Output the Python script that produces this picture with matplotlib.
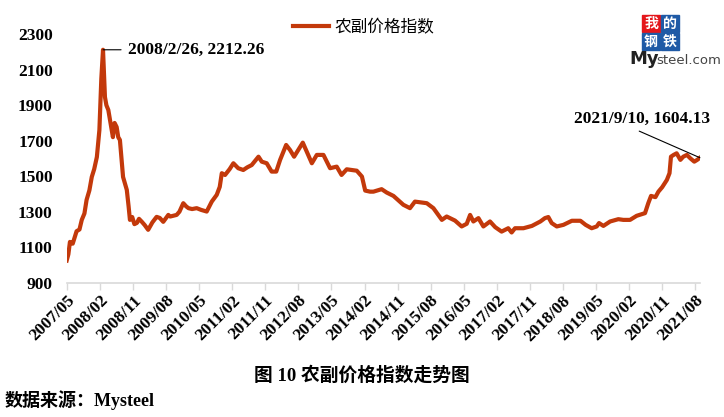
import pandas as pd
import matplotlib
matplotlib.use('Agg')
import matplotlib.pyplot as plt
from matplotlib.patches import Rectangle

# 农副价格指数
dates = ['2007-05-01', '2007-05-15', '2007-05-28', '2007-06-20', '2007-07-22', '2007-08-15',
         '2007-09-03', '2007-09-25', '2007-10-13', '2007-11-05', '2007-11-25', '2007-12-15',
         '2008-01-06', '2008-01-27', '2008-02-12', '2008-02-26', '2008-03-05', '2008-03-13',
         '2008-03-25', '2008-04-10', '2008-04-24', '2008-05-08', '2008-05-18', '2008-06-01',
         '2008-06-18', '2008-07-01', '2008-07-15', '2008-07-28', '2008-08-10', '2008-09-10',
         '2008-09-25', '2008-10-06', '2008-10-25', '2008-11-12', '2008-12-03', '2008-12-20',
         '2009-01-13', '2009-02-05', '2009-03-06', '2009-04-10', '2009-05-15', '2009-06-10',
         '2009-07-09', '2009-08-20', '2009-09-05', '2009-10-28', '2009-11-20', '2009-12-22',
         '2010-01-15', '2010-02-03', '2010-03-05', '2010-04-12', '2010-05-20', '2010-07-04',
         '2010-08-15', '2010-09-25', '2010-10-20', '2010-11-06', '2010-12-03', '2011-01-10',
         '2011-02-10', '2011-03-22', '2011-05-03', '2011-06-05', '2011-07-12', '2011-09-06',
         '2011-10-03', '2011-11-13', '2011-12-24', '2012-01-31', '2012-03-03', '2012-04-22',
         '2012-05-24', '2012-06-27', '2012-08-01', '2012-09-07', '2012-10-10', '2012-11-21',
         '2013-01-01', '2013-02-25', '2013-04-21', '2013-06-15', '2013-07-25', '2013-09-06',
         '2013-11-28', '2014-01-10', '2014-02-06', '2014-03-18', '2014-04-15', '2014-06-22',
         '2014-08-03', '2014-09-28', '2014-12-19', '2015-02-12', '2015-03-25', '2015-07-01',
         '2015-08-25', '2015-11-03', '2015-12-13', '2016-02-20', '2016-04-15', '2016-05-27',
         '2016-06-24', '2016-07-21', '2016-09-01', '2016-10-12', '2016-12-06', '2017-01-18',
         '2017-03-12', '2017-05-06', '2017-06-03', '2017-07-01', '2017-09-09', '2017-11-18',
         '2018-01-27', '2018-03-06', '2018-04-03', '2018-05-01', '2018-06-12', '2018-08-06',
         '2018-10-15', '2018-12-25', '2019-02-06', '2019-03-28', '2019-05-09', '2019-05-28',
         '2019-07-03', '2019-08-28', '2019-11-04', '2019-12-15', '2020-02-09', '2020-04-04',
         '2020-06-12', '2020-07-09', '2020-08-01', '2020-09-06', '2020-10-01', '2020-11-01',
         '2020-12-10', '2021-01-01', '2021-01-13', '2021-02-04', '2021-03-01', '2021-04-01',
         '2021-04-25', '2021-05-25', '2021-06-22', '2021-07-25', '2021-08-18', '2021-09-10']
values = [1025, 1060, 1130, 1120, 1190, 1200,
          1254, 1290, 1367, 1420, 1496, 1540,
          1608, 1760, 2050, 2212.26, 2080, 1946,
          1900, 1873, 1816, 1760, 1720, 1800,
          1777, 1720, 1704, 1600, 1496, 1423,
          1330, 1254, 1270, 1230, 1237, 1260,
          1243, 1225, 1198, 1240, 1271, 1265,
          1243, 1282, 1273, 1282, 1300, 1348,
          1330, 1320, 1315, 1320, 1310, 1301,
          1357, 1395, 1440, 1517, 1507, 1540,
          1573, 1545, 1535, 1550, 1563, 1610,
          1582, 1573, 1526, 1526, 1592, 1676,
          1648, 1610, 1648, 1689, 1638, 1573,
          1620, 1620, 1545, 1554, 1507, 1539,
          1531, 1498, 1419, 1413, 1413, 1427,
          1408, 1389, 1339, 1320, 1357, 1348,
          1320, 1254, 1273, 1250, 1217, 1232,
          1282, 1245, 1264, 1217, 1245, 1213,
          1188, 1207, 1183, 1207, 1207, 1220,
          1245, 1264, 1270, 1236, 1217, 1226,
          1249, 1249, 1226, 1207, 1217, 1236,
          1220, 1245, 1258, 1254, 1254, 1277,
          1292, 1348, 1389, 1382, 1413, 1438,
          1479, 1517, 1610, 1620, 1629, 1592,
          1610, 1620, 1601, 1582, 1592, 1604.13]

tick_labels = ['2007/05', '2008/02', '2008/11', '2009/08', '2010/05', '2011/02', '2011/11',
               '2012/08', '2013/05', '2014/02', '2014/11', '2015/08', '2016/05', '2017/02',
               '2017/11', '2018/08', '2019/05', '2020/02', '2020/11', '2021/08']

df = pd.DataFrame({'date': pd.to_datetime(dates), 'value': values})
ticks = pd.to_datetime([t.replace('/', '-') + '-01' for t in tick_labels])

line_color = '#C3390B'
serif = 'Liberation Serif'
cjk = ['Liberation Serif', 'Noto Sans CJK SC']

fig = plt.figure(figsize=(7.24, 4.17), dpi=100)
ax = fig.add_axes([0.0921, 0.322, 0.875, 0.596])

ax.plot(df['date'], df['value'], color=line_color, lw=3.0, solid_joinstyle='round',
        label='农副价格指数')

ax.set_ylim(900, 2300)
ax.set_yticks(range(900, 2301, 200))
ax.set_xlim(pd.Timestamp('2007-05-01'), pd.Timestamp('2021-09-12'))
ax.set_xticks(ticks)
ax.set_xticklabels(tick_labels, rotation=45, ha='right', rotation_mode='anchor',
                   fontfamily=serif, fontweight='bold', fontsize=12.5)
for lab in ax.get_yticklabels():
    lab.set_fontfamily(serif)
    lab.set_fontweight('bold')
    lab.set_fontsize(12.5)

for s in ['top', 'right', 'left']:
    ax.spines[s].set_visible(False)
ax.spines['bottom'].set_color('#D9D9D9')
ax.spines['bottom'].set_linewidth(1.2)
ax.tick_params(axis='y', length=0, pad=10)
ax.tick_params(axis='x', length=5, color='#D9D9D9', width=1, pad=2)

# annotations
peak = df.loc[df['value'].idxmax()]
ax.annotate(f"{peak['date'].year}/{peak['date'].month}/{peak['date'].day}, {peak['value']:.2f}",
            xy=(peak['date'], peak['value']), xytext=(pd.Timestamp('2008-09-20'), peak['value']),
            va='center', ha='left', fontfamily=serif, fontweight='bold', fontsize=12.5,
            arrowprops=dict(arrowstyle='-', color='black', lw=0.8, shrinkA=3, shrinkB=0))
last = df.iloc[-1]
ax.annotate(f"{last['date'].year}/{last['date'].month}/{last['date'].day}, {last['value']:.2f}",
            xy=(last['date'], last['value']), xytext=(pd.Timestamp('2018-11-01'), 1822),
            va='center', ha='left', fontfamily=serif, fontweight='bold', fontsize=12.5)
ax.annotate('', xy=(last['date'], last['value']), xytext=(pd.Timestamp('2020-04-25'), 1754),
            arrowprops=dict(arrowstyle='-', color='black', lw=0.8, shrinkA=0, shrinkB=0))

leg = fig.legend(loc='center', bbox_to_anchor=(0.502, 0.933), frameon=False,
                 handlelength=2.2, handletextpad=0.3,
                 prop={'family': cjk, 'size': 12})

# logo
fig.patches.append(Rectangle((642 / 724, 1 - 32 / 417), 18 / 724, 17 / 417,
                             transform=fig.transFigure, color='#E4161B'))
for (px, py) in [(661, 32), (642, 50), (661, 50)]:
    fig.patches.append(Rectangle((px / 724, 1 - py / 417), 18 / 724, 17 / 417,
                                 transform=fig.transFigure, color='#1F5AA6'))
for ch, px, py in [('我', 651, 23.5), ('的', 670, 23.5), ('钢', 651, 41.5), ('铁', 670, 41.5)]:
    fig.text(px / 724, 1 - py / 417, ch, color='white', fontsize=10, fontweight='bold',
             family='Noto Sans CJK SC', ha='center', va='center')
fig.text(629 / 724, 1 - 59 / 417, 'My', fontsize=13, fontweight='bold', family='DejaVu Sans',
         ha='left', va='center', color='#222222')
fig.text(656 / 724, 1 - 60 / 417, 'steel.com', fontsize=9.5, family='DejaVu Sans',
         ha='left', va='center', color='#444444')

fig.text(0.5, 1 - 375 / 417, '图 10 农副价格指数走势图', ha='center', va='center',
         family=cjk, fontweight='bold', fontsize=13.5)
fig.text(0.006, 1 - 400 / 417, '数据来源：Mysteel', ha='left', va='center',
         family=cjk, fontweight='bold', fontsize=13)

fig.savefig('out.png', dpi=100)
